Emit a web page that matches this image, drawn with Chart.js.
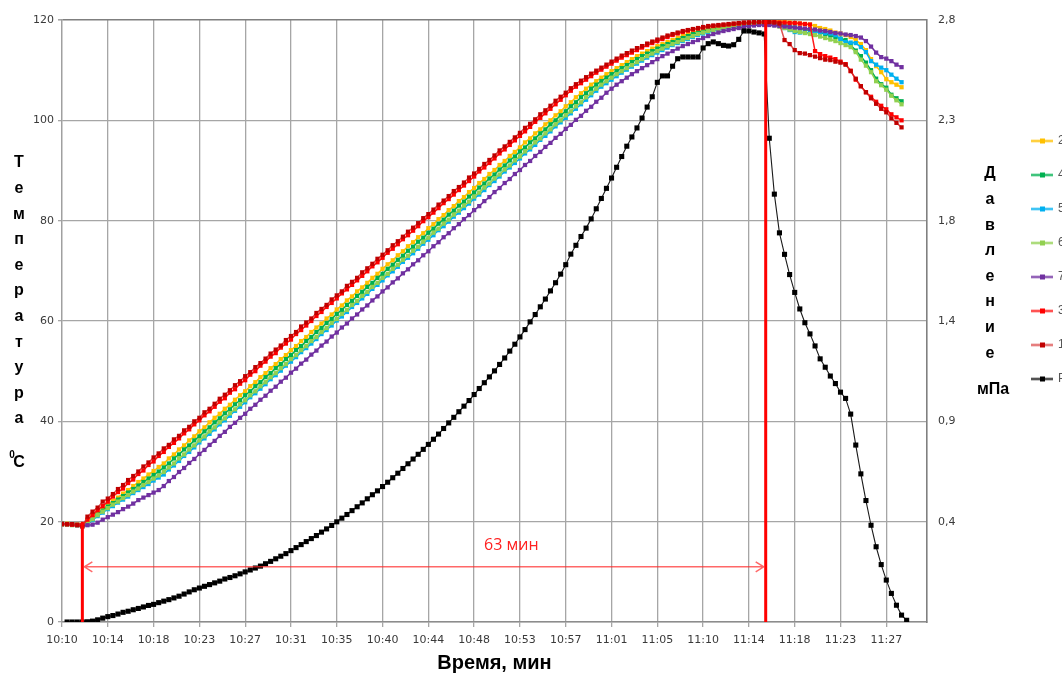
<!DOCTYPE html>
<html lang="ru">
<head>
<meta charset="utf-8">
<title>Температура и давление</title>
<script src="https://cdn.jsdelivr.net/npm/chart.js@4.4.1/dist/chart.umd.min.js"></script>
<style>
  html, body { margin: 0; padding: 0; background: #fff; overflow: hidden; }
  #wrap { width: 1062px; height: 673px; }
</style>
</head>
<body>
<div id="wrap"><canvas id="chart" width="1062" height="673"></canvas></div>
<script>
// time axis: one sample every ~28 s, a label every 9 samples
var sampleCount = 171;
var samplesPerTick = 9;
var timeTicks = ['10:10', '10:14', '10:18', '10:23', '10:27', '10:31', '10:35', '10:40', '10:44', '10:48',
                 '10:53', '10:57', '11:01', '11:05', '11:10', '11:14', '11:18', '11:23', '11:27'];
var pressureMax = 2.8;
var pressureTicks = ['', '0,4', '0,9', '1,4', '1,8', '2,3', '2,8'];

// temperatures, deg C
var t2 = [19.6,19.6,19.5,19.5,19.4,20.2,21.0,21.8,22.5,23.3,
  24.1,24.8,25.6,26.3,27.1,27.9,28.6,29.4,30.1,30.9,
  31.6,32.6,33.4,34.4,35.2,36.2,37.0,38.0,38.8,39.8,
  40.7,41.5,42.5,43.3,44.3,45.2,46.0,47.0,47.8,48.8,
  49.6,50.6,51.4,52.4,53.2,54.2,55.0,56.0,56.8,57.8,
  58.7,59.5,60.5,61.3,62.3,63.1,64.1,64.9,65.9,66.7,
  67.6,68.6,69.4,70.4,71.3,72.1,73.1,73.9,74.9,75.7,
  76.7,77.5,78.5,79.3,80.3,81.1,82.1,82.9,83.9,84.7,
  85.7,86.5,87.5,88.3,89.3,90.1,91.1,91.9,92.9,93.7,
  94.6,95.6,96.4,97.4,98.2,99.2,100.0,101.0,101.8,102.8,
  103.6,104.6,105.4,106.3,107.1,107.8,108.5,109.2,109.8,110.4,
  111.0,111.6,112.2,112.8,113.3,113.8,114.3,114.8,115.2,115.6,
  116.0,116.4,116.8,117.2,117.5,117.8,118.0,118.2,118.4,118.6,
  118.8,118.9,119.0,119.1,119.2,119.3,119.4,119.5,119.5,119.6,
  119.7,119.7,119.6,119.5,119.4,119.3,119.2,119.1,118.8,118.4,
  118.2,117.9,117.5,117.3,117.0,116.6,116.0,115.2,114.0,112.2,
  110.8,109.6,108.2,107.6,107.1,106.6];
var t4 = [19.5,19.5,19.4,19.3,19.2,19.4,20.5,21.4,22.2,23.0,
  23.7,24.4,25.1,25.8,26.5,27.2,27.9,28.6,29.3,30.0,
  30.8,31.6,32.6,33.4,34.4,35.2,36.2,37.0,38.0,38.8,
  39.8,40.6,41.6,42.4,43.4,44.2,45.2,46.0,47.0,47.8,
  48.8,49.6,50.6,51.4,52.4,53.2,54.2,55.0,56.0,56.8,
  57.8,58.6,59.6,60.4,61.4,62.2,63.2,64.0,65.0,65.8,
  66.8,67.6,68.6,69.4,70.4,71.2,72.2,73.0,74.0,74.8,
  75.8,76.6,77.6,78.4,79.4,80.2,81.2,82.0,83.0,83.8,
  84.8,85.6,86.6,87.4,88.4,89.2,90.2,91.0,92.0,92.8,
  93.8,94.6,95.6,96.4,97.4,98.2,99.2,100.0,101.0,101.8,
  102.8,103.6,104.6,105.4,106.3,107.1,107.8,108.5,109.2,109.8,
  110.4,111.0,111.6,112.2,112.8,113.3,113.8,114.3,114.8,115.2,
  115.6,116.0,116.4,116.8,117.2,117.5,117.8,118.0,118.2,118.4,
  118.6,118.8,118.9,119.0,119.1,119.2,119.3,119.3,119.4,119.4,
  119.3,119.1,118.9,118.7,118.5,118.3,118.1,117.9,117.7,117.5,
  117.2,116.9,116.6,116.3,116.0,115.0,113.9,112.8,111.5,110.0,
  108.3,107.2,106.5,105.1,104.4,103.8];
var t5 = [19.6,19.5,19.5,19.4,19.3,19.5,20.3,21.1,21.8,22.5,
  23.1,23.8,24.4,25.0,25.7,26.3,26.9,27.5,28.2,28.8,
  29.4,30.4,31.2,32.1,33.1,33.9,34.8,35.8,36.6,37.5,
  38.4,39.4,40.2,41.1,42.1,42.9,43.8,44.8,45.6,46.5,
  47.4,48.4,49.2,50.1,51.1,51.9,52.8,53.8,54.6,55.5,
  56.4,57.4,58.2,59.1,60.1,60.9,61.8,62.8,63.6,64.5,
  65.4,66.4,67.2,68.1,69.1,69.9,70.8,71.8,72.6,73.5,
  74.4,75.4,76.2,77.1,78.1,78.9,79.8,80.8,81.6,82.5,
  83.4,84.4,85.2,86.1,87.1,87.9,88.8,89.8,90.6,91.5,
  92.4,93.4,94.2,95.1,96.1,96.9,97.8,98.8,99.6,100.5,
  101.4,102.3,103.2,104.1,105.0,105.9,106.7,107.4,108.1,108.8,
  109.5,110.1,110.7,111.3,111.9,112.5,113.0,113.5,114.0,114.5,
  115.0,115.4,115.8,116.2,116.6,117.0,117.3,117.6,117.9,118.1,
  118.3,118.5,118.7,118.8,118.9,119.0,119.1,119.2,119.2,119.2,
  119.0,118.8,118.4,118.0,117.6,117.5,117.5,117.4,117.5,117.6,
  117.4,117.3,117.0,116.2,115.6,115.5,115.4,114.6,113.6,111.8,
  111.1,110.5,110.0,109.1,108.3,107.6];
var t6 = [19.4,19.4,19.3,19.3,19.2,19.6,20.5,21.3,22.0,22.7,
  23.4,24.0,24.7,25.3,26.0,26.6,27.3,27.9,28.6,29.2,
  29.9,30.8,31.6,32.6,33.4,34.4,35.2,36.2,37.0,38.0,
  38.8,39.8,40.6,41.6,42.4,43.4,44.2,45.2,46.0,47.0,
  47.8,48.8,49.6,50.6,51.4,52.4,53.2,54.2,55.0,56.0,
  56.8,57.8,58.6,59.6,60.4,61.4,62.2,63.2,64.0,65.0,
  65.8,66.8,67.6,68.6,69.4,70.4,71.2,72.2,73.0,74.0,
  74.8,75.8,76.6,77.6,78.4,79.4,80.2,81.2,82.0,83.0,
  83.8,84.8,85.6,86.6,87.4,88.4,89.2,90.2,91.0,92.0,
  92.8,93.8,94.6,95.6,96.4,97.4,98.2,99.2,100.0,101.0,
  101.8,102.8,103.6,104.6,105.4,106.3,107.1,107.8,108.5,109.2,
  109.8,110.4,111.0,111.6,112.2,112.8,113.3,113.8,114.3,114.8,
  115.2,115.6,116.0,116.4,116.8,117.2,117.5,117.8,118.0,118.2,
  118.4,118.6,118.8,118.9,119.0,119.1,119.2,119.2,119.3,119.2,
  119.0,118.7,118.4,118.1,117.8,117.6,117.4,117.2,117.0,116.7,
  116.4,116.1,115.8,115.4,115.0,114.6,113.6,112.1,110.9,109.6,
  107.8,107.0,106.1,104.9,104.0,103.2];
var t7 = [19.5,19.5,19.4,19.3,19.3,19.3,19.4,19.8,20.4,20.9,
  21.4,21.9,22.5,23.0,23.6,24.3,24.8,25.3,25.8,26.3,
  27.1,28.1,28.9,29.9,30.7,31.7,32.5,33.5,34.3,35.3,
  36.1,37.1,37.9,38.9,39.7,40.7,41.5,42.5,43.3,44.3,
  45.1,46.1,46.9,47.9,48.7,49.7,50.5,51.5,52.3,53.3,
  54.1,55.1,55.9,56.9,57.7,58.7,59.5,60.5,61.3,62.3,
  63.1,64.1,64.9,65.9,66.7,67.7,68.5,69.5,70.3,71.3,
  72.1,73.1,73.9,74.9,75.7,76.7,77.5,78.5,79.3,80.3,
  81.1,82.1,82.9,83.9,84.7,85.7,86.5,87.5,88.3,89.3,
  90.1,91.1,91.9,92.9,93.7,94.7,95.5,96.5,97.3,98.3,
  99.1,100.1,100.9,101.9,102.7,103.7,104.5,105.5,106.3,107.1,
  107.8,108.5,109.2,109.8,110.4,111.0,111.6,112.2,112.8,113.3,
  113.8,114.3,114.8,115.2,115.6,116.0,116.4,116.8,117.2,117.5,
  117.8,118.0,118.2,118.4,118.6,118.8,118.9,119.0,119.0,119.0,
  118.9,118.8,118.7,118.6,118.5,118.4,118.3,118.2,118.1,117.9,
  117.8,117.6,117.4,117.3,117.1,117.0,116.8,116.5,115.8,114.7,
  113.5,112.6,112.3,111.8,111.1,110.6];
var t3 = [19.5,19.5,19.4,19.4,19.3,20.4,21.3,22.3,23.1,24.0,
  25.0,25.9,26.6,27.7,28.4,29.5,30.2,31.3,32.0,33.1,
  33.9,34.9,35.7,36.6,37.6,38.4,39.4,40.2,41.2,42.0,
  42.9,43.9,44.6,45.7,46.4,47.5,48.2,49.3,50.0,51.1,
  51.9,52.9,53.6,54.7,55.5,56.3,57.4,58.2,59.1,60.0,
  61.0,61.8,62.8,63.6,64.5,65.5,66.3,67.2,68.1,69.0,
  69.9,70.9,71.7,72.6,73.6,74.4,75.3,76.3,77.1,78.0,
  78.9,79.9,80.7,81.6,82.5,83.5,84.3,85.2,86.1,87.0,
  87.9,88.8,89.8,90.6,91.5,92.4,93.4,94.2,95.1,96.0,
  96.9,97.8,98.7,99.7,100.5,101.4,102.3,103.2,104.1,105.0,
  105.9,106.7,107.4,108.1,108.8,109.5,110.1,110.7,111.3,111.9,
  112.5,113.0,113.5,114.0,114.5,115.0,115.4,115.8,116.2,116.6,
  117.0,117.3,117.6,117.9,118.1,118.3,118.5,118.7,118.8,118.9,
  119.0,119.1,119.2,119.3,119.4,119.5,119.5,119.6,119.6,119.6,
  119.6,119.5,119.5,119.4,119.4,119.3,119.2,119.1,113.8,113.2,
  112.8,112.5,112.2,111.7,111.2,109.9,108.1,106.8,105.6,104.7,
  103.7,102.9,102.2,101.2,100.6,100.0];
var t1 = [19.6,19.5,19.5,19.3,19.0,21.0,22.0,22.8,24.0,24.6,
  25.5,26.5,27.3,28.3,29.1,30.0,31.0,31.8,32.8,33.6,
  34.6,35.3,36.4,37.1,38.2,38.9,40.0,40.7,41.8,42.5,
  43.5,44.5,45.3,46.2,47.2,48.0,49.0,49.8,50.8,51.6,
  52.5,53.5,54.3,55.1,56.2,57.0,57.8,58.9,59.7,60.5,
  61.6,62.4,63.2,64.3,65.1,65.9,67.0,67.8,68.6,69.7,
  70.5,71.4,72.4,73.2,74.1,75.1,75.9,76.8,77.8,78.6,
  79.5,80.5,81.3,82.2,83.2,84.0,84.9,85.9,86.7,87.6,
  88.6,89.4,90.3,91.3,92.1,93.0,94.0,94.8,95.7,96.6,
  97.5,98.5,99.3,100.2,101.2,102.0,102.9,103.9,104.7,105.5,
  106.4,107.2,107.9,108.6,109.3,109.9,110.5,111.1,111.7,112.3,
  112.9,113.4,113.9,114.4,114.8,115.3,115.7,116.1,116.5,116.9,
  117.2,117.5,117.8,118.0,118.2,118.4,118.6,118.8,118.9,119.0,
  119.1,119.2,119.3,119.4,119.5,119.5,119.6,119.6,119.6,119.6,
  119.5,119.3,116.0,115.2,114.0,113.4,113.3,113.0,112.7,112.4,
  112.1,112.0,111.7,111.5,111.1,109.8,108.3,106.8,105.6,104.4,
  103.3,102.3,101.6,100.4,99.5,98.6];
// pressure, MPa
var pr = [null,0,0,0,0,0.001,0.004,0.01,0.018,0.025,
  0.03,0.037,0.045,0.05,0.057,0.063,0.07,0.077,0.082,0.09,
  0.097,0.104,0.112,0.12,0.13,0.14,0.15,0.158,0.166,0.174,
  0.182,0.19,0.2,0.207,0.215,0.224,0.233,0.242,0.251,0.26,
  0.271,0.282,0.294,0.306,0.318,0.332,0.346,0.36,0.374,0.388,
  0.402,0.418,0.433,0.449,0.466,0.483,0.5,0.518,0.536,0.554,
  0.573,0.592,0.61,0.63,0.65,0.671,0.692,0.714,0.736,0.758,
  0.78,0.803,0.826,0.85,0.874,0.9,0.926,0.952,0.978,1.004,
  1.03,1.058,1.086,1.113,1.14,1.168,1.198,1.228,1.26,1.292,
  1.326,1.36,1.396,1.43,1.466,1.502,1.54,1.578,1.618,1.662,
  1.711,1.752,1.793,1.832,1.875,1.922,1.97,2.017,2.065,2.115,
  2.165,2.213,2.256,2.298,2.344,2.395,2.443,2.51,2.54,2.54,
  2.585,2.62,2.628,2.628,2.628,2.628,2.67,2.69,2.698,2.69,
  2.682,2.679,2.685,2.71,2.749,2.749,2.744,2.74,2.735,2.25,
  1.99,1.81,1.71,1.616,1.533,1.456,1.392,1.34,1.284,1.224,
  1.185,1.144,1.109,1.069,1.04,0.967,0.823,0.689,0.565,0.45,
  0.35,0.267,0.195,0.133,0.078,0.032,0.008];

var seriesNames = ['2', '4', '5', '6', '7', '3', '1', 'P'];
var seriesValues = [t2, t4, t5, t6, t7, t3, t1, pr];
var lineColors = ['#ffc000', '#00b050', '#00b0f0', '#92d050', '#7030a0', '#ff1a1a', 'rgba(214,40,40,0.8)', '#1a1a1a'];
var markColors = ['#ffc000', '#00b050', '#00b0f0', '#92d050', '#7030a0', '#ff0000', '#c00000', '#000000'];

// heating interval marked on the chart
var heatStartIdx = 4, heatStartTemp = 20;
var heatEndIdx = 138.3;
var spanText = '63 мин', spanTextIdx = 88.3, spanTextTemp = 15.2, spanArrowTemp = 11;

var leftTitle = 'Температура';
var rightTitle = 'Давление';
var rightUnit = 'мПа';

var sampleIndex = [];
for (var i = 0; i < sampleCount; i++) sampleIndex.push(i);

function legendIcon(line, mark) {
  var cv = document.createElement('canvas');
  cv.width = 22; cv.height = 7;
  var g = cv.getContext('2d');
  g.strokeStyle = line; g.lineWidth = 2;
  g.beginPath(); g.moveTo(0, 3.5); g.lineTo(22, 3.5); g.stroke();
  g.fillStyle = mark; g.fillRect(9, 1, 5, 5);
  return cv;
}
var icons = seriesNames.map(function (n, k) { return legendIcon(lineColors[k], markColors[k]); });

var datasets = seriesNames.map(function (n, k) {
  var isP = n === 'P';
  return {
    label: n,
    data: seriesValues[k],
    yAxisID: isP ? 'y1' : 'y',
    borderColor: lineColors[k],
    backgroundColor: markColors[k],
    pointBackgroundColor: markColors[k],
    pointBorderColor: markColors[k],
    borderWidth: isP ? 1.1 : 1.5,
    pointStyle: 'rect',
    pointRadius: isP ? 3.6 : 3,
    pointBorderWidth: 0,
    tension: 0,
    fill: false,
    order: seriesNames.length - k
  };
});

// red marks: start/end of heating, double arrow and its label
var heatMarks = {
  id: 'heatMarks',
  afterDatasetsDraw: function (chart) {
    var c = chart.ctx, x = chart.scales.x, y = chart.scales.y;
    var x0 = x.getPixelForValue(heatStartIdx), x1 = x.getPixelForValue(heatEndIdx);
    var yb = y.getPixelForValue(0), ys = y.getPixelForValue(heatStartTemp), yt = y.getPixelForValue(120);
    c.save();
    c.strokeStyle = '#ff0000'; c.lineWidth = 3;
    c.beginPath();
    c.moveTo(x0, yb); c.lineTo(x0, ys);
    c.moveTo(x1, yb); c.lineTo(x1, yt);
    c.stroke();
    var ya = y.getPixelForValue(spanArrowTemp);
    c.strokeStyle = 'rgba(255,40,40,0.7)'; c.lineWidth = 1.5;
    c.beginPath();
    c.moveTo(x0 + 2, ya); c.lineTo(x1 - 2, ya);
    c.moveTo(x0 + 10, ya - 5); c.lineTo(x0 + 2, ya); c.lineTo(x0 + 10, ya + 5);
    c.moveTo(x1 - 10, ya - 5); c.lineTo(x1 - 2, ya); c.lineTo(x1 - 10, ya + 5);
    c.stroke();
    c.fillStyle = '#ff2020';
    c.font = '16px "Open Sans"';
    c.textAlign = 'center'; c.textBaseline = 'middle';
    c.fillText(spanText, x.getPixelForValue(spanTextIdx), y.getPixelForValue(spanTextTemp));
    c.restore();
  }
};

// axis titles written letter under letter
var stackedTitles = {
  id: 'stackedTitles',
  afterDraw: function (chart) {
    var c = chart.ctx;
    c.save();
    c.fillStyle = '#000'; c.textAlign = 'center'; c.textBaseline = 'middle';
    c.font = 'bold 16px "Liberation Sans"';
    leftTitle.split('').forEach(function (ch, k) { c.fillText(ch, 19, 163 + k * 25.6); });
    c.fillText('С', 19, 463);
    c.font = 'bold 10px "Liberation Sans"';
    c.fillText('0', 12, 455);
    c.font = 'bold 16px "Liberation Sans"';
    rightTitle.split('').forEach(function (ch, k) { c.fillText(ch, 990, 174 + k * 25.6); });
    c.fillText(rightUnit, 993, 390);
    c.restore();
  }
};

Chart.defaults.font.family = '"DejaVu Sans", sans-serif';
Chart.defaults.font.size = 11;

new Chart(document.getElementById('chart'), {
  type: 'line',
  data: { labels: sampleIndex, datasets: datasets },
  options: {
    responsive: false,
    devicePixelRatio: 1,
    animation: false,
    layout: { padding: { top: 20, right: 0, bottom: 0, left: 0 } },
    scales: {
      x: {
        type: 'linear', min: 0, max: sampleCount - 1,
        afterBuildTicks: function (axis) {
          axis.ticks = timeTicks.map(function (t, k) { return { value: k * samplesPerTick }; });
        },
        afterFit: function (axis) { axis.height = 51; },
        ticks: {
          callback: function (v, k) { return timeTicks[k]; },
          autoSkip: false, maxRotation: 0, padding: 7, color: '#3a3a3a'
        },
        grid: { color: '#a6a6a6', lineWidth: 1.3, tickLength: 5, tickColor: '#a6a6a6' },
        border: { color: '#8c8c8c', width: 1.5 },
        title: {
          display: true, text: 'Время, мин', color: '#000',
          font: { family: '"Liberation Sans"', size: 20, weight: 'bold', lineHeight: 1 },
          padding: { top: 0, bottom: 0 }
        }
      },
      y: {
        position: 'left', min: 0, max: 120,
        afterFit: function (axis) { axis.width = 62; },
        ticks: { stepSize: 20, padding: 4, color: '#3a3a3a' },
        grid: {
          color: function (ctx) { return ctx.tick && ctx.tick.value === 120 ? '#7f7f7f' : '#a6a6a6'; },
          lineWidth: function (ctx) { return ctx.tick && ctx.tick.value === 120 ? 1.6 : 1.3; },
          tickLength: 4, tickColor: '#a6a6a6'
        },
        border: { color: '#a0a0a0', width: 1.3 }
      },
      y1: {
        position: 'right', min: 0, max: pressureMax,
        afterBuildTicks: function (axis) {
          var n = pressureTicks.length - 1;
          axis.ticks = pressureTicks.map(function (t, k) { return { value: pressureMax * k / n }; });
        },
        afterFit: function (axis) { axis.width = 83; },
        ticks: { callback: function (v, k) { return pressureTicks[k]; }, padding: 11, color: '#3a3a3a' },
        grid: { display: false, drawTicks: false },
        border: { display: true, color: '#808080', width: 1.6 }
      }
    },
    plugins: {
      legend: {
        position: 'right', align: 'start', maxWidth: 52,
        title: { display: true, text: ' ', font: { size: 12, lineHeight: 1.2 }, padding: { top: 78.6, bottom: 0 } },
        labels: {
          usePointStyle: true, pointStyleWidth: 20, padding: 22, color: '#555',
          font: { family: '"Liberation Sans"', size: 12 },
          generateLabels: function (chart) {
            return chart.data.datasets.map(function (ds, k) {
              return {
                text: ds.label, pointStyle: icons[k], fillStyle: markColors[k],
                strokeStyle: markColors[k], lineWidth: 0, fontColor: '#555',
                hidden: !chart.isDatasetVisible(k), datasetIndex: k
              };
            });
          }
        }
      },
      tooltip: { enabled: false }
    }
  },
  plugins: [heatMarks, stackedTitles]
});
</script>
</body>
</html>
